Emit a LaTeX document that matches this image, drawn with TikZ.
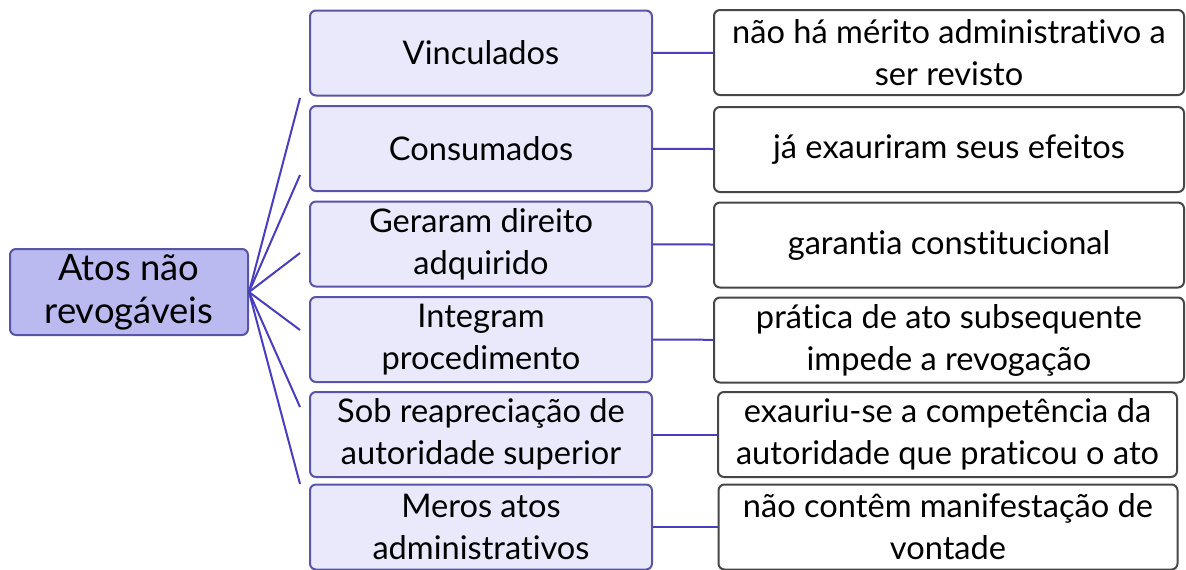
\documentclass[tikz,border=0pt]{standalone}
\usepackage{fontspec}
\setmainfont[Ligatures=NoCommon]{Lato}
\usetikzlibrary{positioning}
\usepackage{xcolor}
\definecolor{rootfill}{RGB}{186,186,240}
\definecolor{catfill}{RGB}{233,233,251}
\definecolor{catdraw}{RGB}{88,84,168}
\definecolor{linkcol}{RGB}{72,62,190}
\definecolor{notedraw}{RGB}{70,70,70}

\begin{document}
\begin{tikzpicture}[x=0.5pt,y=-0.5pt,draw=linkcol,line width=1pt]
    \tikzstyle{box}=[rectangle,rounded corners=3pt,align=center,inner sep=0pt,
        font=\fontsize{16.3}{21}\selectfont]
    \tikzstyle{root box}=[box, fill=rootfill, draw=catdraw, minimum width=119pt, minimum height=43pt,
        font=\fontsize{18.2}{21.5}\selectfont]
    \tikzstyle{cat box}=[box, fill=catfill, draw=catdraw, minimum width=171pt, minimum height=42.5pt]
    \tikzstyle{note box}=[box, fill=white, draw=notedraw, minimum width=235pt, minimum height=42.5pt]

    \useasboundingbox[fill=white] (0,0) rectangle (1186,569);

    \node[root box] (A) at (129,292) {Atos não\\revogáveis};

    \node[cat box] (C-1) at (481,53) {Vinculados};
    \node[cat box] (C-2) at (481,148.5) {Consumados};
    \node[cat box] (C-3) at (481,244) {Geraram direito\\adquirido};
    \node[cat box] (C-4) at (481,339.5) {Integram\\procedimento};
    \node[cat box] (C-5) at (481,434.5) {Sob reapreciação de\\autoridade superior};
    \node[cat box] (C-6) at (481,527) {Meros atos\\administrativos};

    \node[note box] (E-1) at (949,52.5) {não há mérito administrativo a\\ser revisto};
    \node[note box] (E-2) at (949,149.5) {já exauriram seus efeitos};
    \node[note box] (E-3) at (949,245) {garantia constitucional};
    \node[note box] (E-4) at (949,340) {prática de ato subsequente\\impede a revogação};
    \node[note box, minimum width=229.5pt] (E-5) at (947.5,434.5) {exauriu-se a competência da\\autoridade que praticou o ato};
    \node[note box, minimum width=229.5pt] (E-6) at (948,527) {não contêm manifestação de\\vontade};

    % free ends of the fan lines
    \coordinate (P-1) at (300,98);
    \coordinate (P-2) at (300,175);
    \coordinate (P-3) at (300,253);
    \coordinate (P-4) at (300,330);
    \coordinate (P-5) at (300,407);
    \coordinate (P-6) at (300,484);

    \foreach \i in {1,...,6}{
        \draw (A.east) -- (P-\i);
        \draw (C-\i) -- (E-\i);
    }
\end{tikzpicture}
\end{document}
